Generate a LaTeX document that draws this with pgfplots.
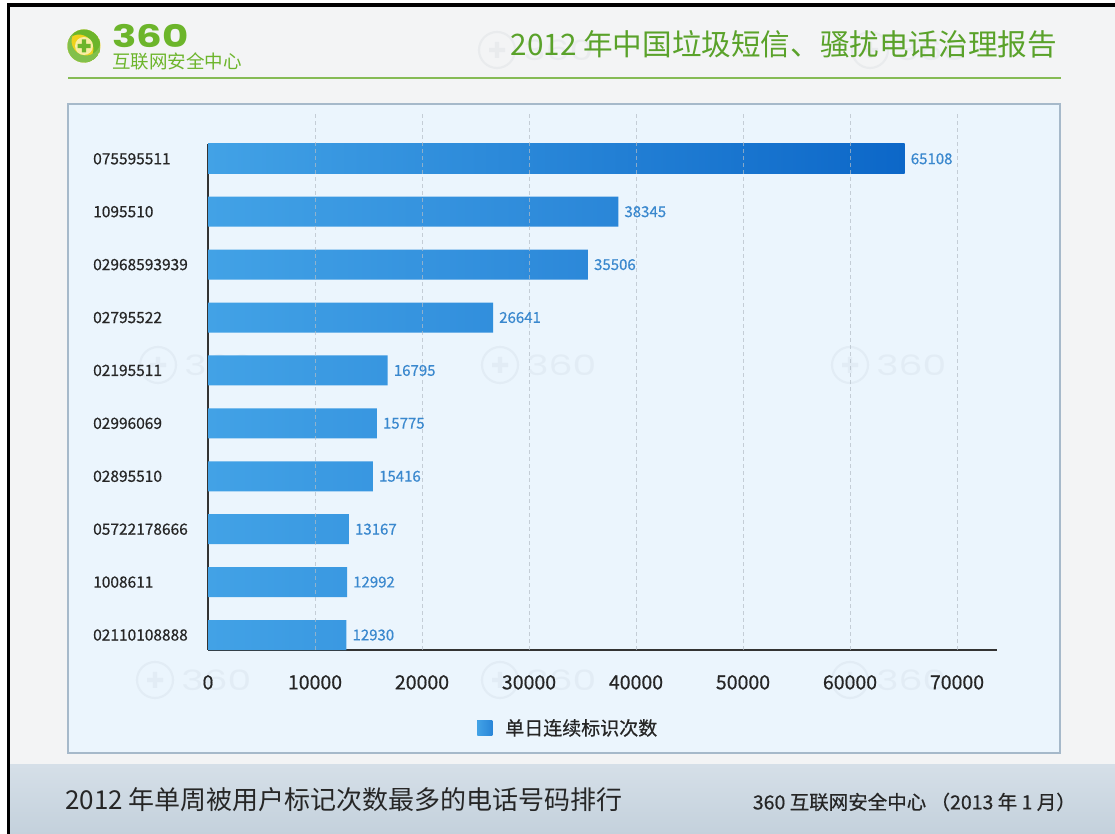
\documentclass[border=0pt]{standalone}
\usepackage{fontspec}
\setmainfont{Noto Sans CJK SC}
\newfontfamily\semib[FakeBold=0.6]{Noto Sans CJK SC}
\newfontfamily\pop{Poppins}
\usepackage{pgfplots}
\pgfplotsset{compat=1.18}

\definecolor{pagebg}{HTML}{F3F4F5}
\definecolor{foott}{HTML}{D5DFE8}
\definecolor{footb}{HTML}{C4D1DC}
\definecolor{panel}{HTML}{EBF5FD}
\definecolor{panelb}{HTML}{A6B9CA}
\definecolor{titleg}{HTML}{5AA22A}
\definecolor{greenl}{HTML}{86BB55}
\definecolor{logog}{HTML}{6CB52B}
\definecolor{logoy}{HTML}{F0D21C}
\definecolor{gridc}{HTML}{B4BDC6}
\definecolor{axisc}{HTML}{333333}
\definecolor{barl}{HTML}{42A2E6}
\definecolor{barr}{HTML}{2A86D8}
\definecolor{bartop}{HTML}{0C67C8}
\definecolor{valc}{HTML}{3A88CE}
\definecolor{legsq}{HTML}{3592DC}
\definecolor{txt}{HTML}{262626}
\definecolor{wmc}{HTML}{8E9AA6}

% faint "360" watermark
\newcommand\wm[2]{%
  \begin{scope}[shift={(#1,#2)}, opacity=0.09]
    \draw[wmc, line width=2.2] (0,0) circle (18);
    \fill[wmc] (-8,-2.2) rectangle (8,2.2) (-2.2,-8) rectangle (2.2,8);
    \node[anchor=west, text=wmc, inner sep=0, xscale=1.35] at (26,0)
      {\pop\fontsize{28bp}{30bp}\selectfont 360};
  \end{scope}}

\begin{document}
\begin{tikzpicture}[x=1bp,y=1bp]
\useasboundingbox (0,0) rectangle (1115,834);
\fill[white] (0,0) rectangle (1115,834);
\fill[pagebg] (9.5,0) rectangle (1115,827);
\fill[top color=foott, bottom color=footb] (9.5,0) rectangle (1115,69);
\fill[black] (7,827) rectangle (1115,831);
\fill[black] (7,0) rectangle (9.5,831);

% header
\wm{497}{784}
\wm{870}{784}
\begin{scope}[shift={(84,788)}]
  \fill[logoy] (0,0) circle (16.5);
  \begin{scope}
    \clip (0,0) circle (16.5);
    \fill[logog, even odd rule] (0,0) circle (16.5) (-5,-3) circle (14.5);
    \fill[logog!85, even odd rule] (0,0) circle (16.5) (2,5) circle (14.5);
  \end{scope}
  \fill[logoy!40] (0,0) circle (9);
  \fill[logog] (-6.5,-2.2) rectangle (6.5,2.2) (-2.2,-6.5) rectangle (2.2,6.5);
\end{scope}
\node[anchor=west, text=logog, inner sep=0, xscale=1.3] at (112,798)
  {\pop\bfseries\fontsize{31bp}{33bp}\selectfont 360};
\node[anchor=west, text=logog, inner sep=0] at (112,773)
  {\fontsize{18.5bp}{20bp}\selectfont 互联网安全中心};
\node[anchor=east, text=titleg, inner sep=0] at (1057,790)
  {\fontsize{29.6bp}{32bp}\selectfont 2012 年中国垃圾短信、骚扰电话治理报告};
\draw[greenl, line width=2.5] (68,756) -- (1061,756);

% chart panel
\filldraw[fill=panel, draw=panelb, line width=1.5] (68,81) rectangle (1060,730);
\wm{158}{469}
\wm{500}{469}
\wm{850}{469}
\wm{155}{154}
\wm{500}{154}
\wm{850}{154}

\begin{axis}[
    at={(208bp,184bp)}, anchor=south west,
    scale only axis, width=789bp, height=506bp,
    xmin=0, xmax=73740, ymin=-0.283, ymax=9.28,
    clip=false,
    axis lines*=left,
    axis line style={axisc, line width=1.7bp},
    major tick length=0pt,
    xtick={0,10000,20000,30000,40000,50000,60000,70000},
    scaled x ticks=false,
    /pgf/number format/1000 sep={},
    /pgf/number format/assume math mode=true,
    xticklabel style={anchor=north, inner sep=0pt, yshift=-25bp,
      text=txt, font=\semib\fontsize{19.5bp}{22bp}\selectfont},
    ytick={0,1,2,3,4,5,6,7,8,9},
    yticklabels={02110108888,1008611,05722178666,02895510,02996069,
                 02195511,02795522,02968593939,1095510,075595511},
    yticklabel style={anchor=west, inner sep=0pt, xshift=-115bp,
      text=txt, font=\semib\fontsize{15.5bp}{18bp}\selectfont},
    point meta=x,
    nodes near coords,
    every node near coord/.append style={anchor=west, inner sep=0pt,
      xshift=6bp, text=valc, font=\semib\fontsize{15bp}{18bp}\selectfont},
    legend style={at={(0.341,-0.154)}, anchor=west, draw=none, fill=none,
      inner sep=0pt, text=txt, font=\semib\fontsize{19bp}{21bp}\selectfont,
      /tikz/every odd column/.append style={column sep=11bp}},
    legend image code/.code={\fill[legsq] (0bp,-7.5bp) rectangle (15bp,7.5bp);},
  ]
  \addplot[xbar, bar shift=0pt, bar width=30bp, draw=none,
           left color=barl, right color=barr]
    coordinates {(12930,0) (12992,1) (13167,2) (15416,3) (15775,4)
                 (16795,5) (26641,6) (35506,7) (38345,8)};
  \addlegendentry{单日连续标识次数}
  \addplot[xbar, bar shift=0pt, bar width=30bp, draw=none, forget plot,
           left color=barl, right color=bartop]
    coordinates {(65108,9)};
  \pgfplotsinvokeforeach{10000,20000,30000,40000,50000,60000,70000}{
    \draw[gridc, dash pattern=on 4bp off 3bp, line width=0.8bp, opacity=0.7]
      (axis cs:#1,-0.283) -- (axis cs:#1,9.887);}
\end{axis}

% footer
\node[anchor=west, text=txt, inner sep=0] at (65,34)
  {\fontsize{26bp}{28bp}\selectfont 2012 年单周被用户标记次数最多的电话号码排行};
\node[anchor=east, text=txt, inner sep=0] at (1076,32)
  {\semib\fontsize{19.5bp}{22bp}\selectfont 360 互联网安全中心 （2013 年 1 月）};
\end{tikzpicture}
\end{document}
